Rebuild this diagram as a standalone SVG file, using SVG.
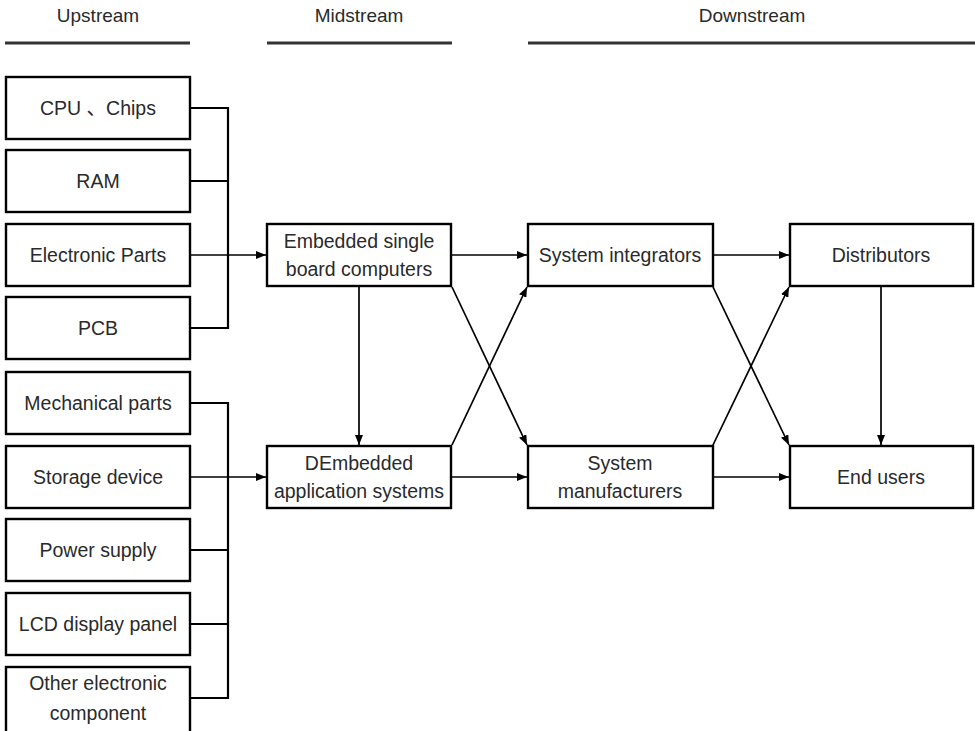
<svg xmlns="http://www.w3.org/2000/svg" width="975" height="731" viewBox="0 0 975 731">
<defs>
<marker id="arr" markerWidth="10" markerHeight="8" refX="10" refY="4" orient="auto" markerUnits="userSpaceOnUse">
<path d="M0,0 L10,4 L0,8 Z" fill="#000"/>
</marker>
<style>
.box{fill:#fff;stroke:#000;stroke-width:2.4}
.t{font-family:"Liberation Sans",Arial,"Noto Sans CJK SC",sans-serif;font-size:19.5px;fill:#2a2a2a;text-anchor:middle}
.h{font-family:"Liberation Sans",Arial,sans-serif;font-size:19px;fill:#2a2a2a;text-anchor:middle}
.hl{stroke:#333;stroke-width:3}
.c{fill:none;stroke:#000;stroke-width:2.2}
.a{fill:none;stroke:#000;stroke-width:1.7;marker-end:url(#arr)}
</style>
</defs>
<rect width="975" height="731" fill="#fff"/>
<g id="headers">
<text class="h" x="98" y="22">Upstream</text>
<line class="hl" x1="5" y1="43" x2="190" y2="43"/>
<text class="h" x="359" y="22">Midstream</text>
<line class="hl" x1="267" y1="43" x2="452" y2="43"/>
<text class="h" x="752" y="22">Downstream</text>
<line class="hl" x1="528" y1="43" x2="975" y2="43"/>
</g>
<g id="cpu"><rect class="box" x="6" y="77" width="184" height="62"/><text class="t" x="98" y="115">CPU 、Chips</text></g>
<g id="ram"><rect class="box" x="6" y="150" width="184" height="62"/><text class="t" x="98" y="188">RAM</text></g>
<g id="electronic"><rect class="box" x="6" y="224" width="184" height="62"/><text class="t" x="98" y="262">Electronic Parts</text></g>
<g id="pcb"><rect class="box" x="6" y="297" width="184" height="62"/><text class="t" x="98" y="335">PCB</text></g>
<g id="mechanical"><rect class="box" x="6" y="372" width="184" height="62"/><text class="t" x="98" y="410">Mechanical parts</text></g>
<g id="storage"><rect class="box" x="6" y="446" width="184" height="62"/><text class="t" x="98" y="484">Storage device</text></g>
<g id="power"><rect class="box" x="6" y="519" width="184" height="62"/><text class="t" x="98" y="557">Power supply</text></g>
<g id="lcd"><rect class="box" x="6" y="593" width="184" height="62"/><text class="t" x="98" y="631">LCD display panel</text></g>
<g id="other"><rect class="box" x="6" y="667" width="184" height="66"/><text class="t" x="98" y="690">Other electronic</text><text class="t" x="98" y="720">component</text></g>
<g id="esbc"><rect class="box" x="267" y="224" width="184" height="62"/><text class="t" x="359" y="248">Embedded single</text><text class="t" x="359" y="276">board computers</text></g>
<g id="deas"><rect class="box" x="267" y="446" width="184" height="62"/><text class="t" x="359" y="470">DEmbedded</text><text class="t" x="359" y="498">application systems</text></g>
<g id="integrators"><rect class="box" x="528" y="224" width="185" height="62"/><text class="t" x="620" y="262">System integrators</text></g>
<g id="manufacturers"><rect class="box" x="528" y="446" width="185" height="62"/><text class="t" x="620" y="470">System</text><text class="t" x="620" y="498">manufacturers</text></g>
<g id="distributors"><rect class="box" x="790" y="224" width="183" height="62"/><text class="t" x="881" y="262">Distributors</text></g>
<g id="endusers"><rect class="box" x="790" y="446" width="183" height="62"/><text class="t" x="881" y="484">End users</text></g>
<g id="connectors">
<path class="c" d="M190,108 H228 V328 H190 M190,181 H228"/>
<path class="a" d="M190,255 H266"/>
<path class="c" d="M190,403 H228 V698 H190 M190,550 H228 M190,624 H228"/>
<path class="a" d="M190,477 H266"/>
<path class="a" d="M359,287 V445"/>
<path class="a" d="M452,255 H527"/>
<path class="a" d="M452,477 H527"/>
<path class="a" d="M452,287 L527,445"/>
<path class="a" d="M452,445 L527,287"/>
<path class="a" d="M713,255 H789"/>
<path class="a" d="M713,477 H789"/>
<path class="a" d="M713,287 L789,445"/>
<path class="a" d="M713,445 L789,287"/>
<path class="a" d="M881,287 V445"/>
</g>
</svg>
